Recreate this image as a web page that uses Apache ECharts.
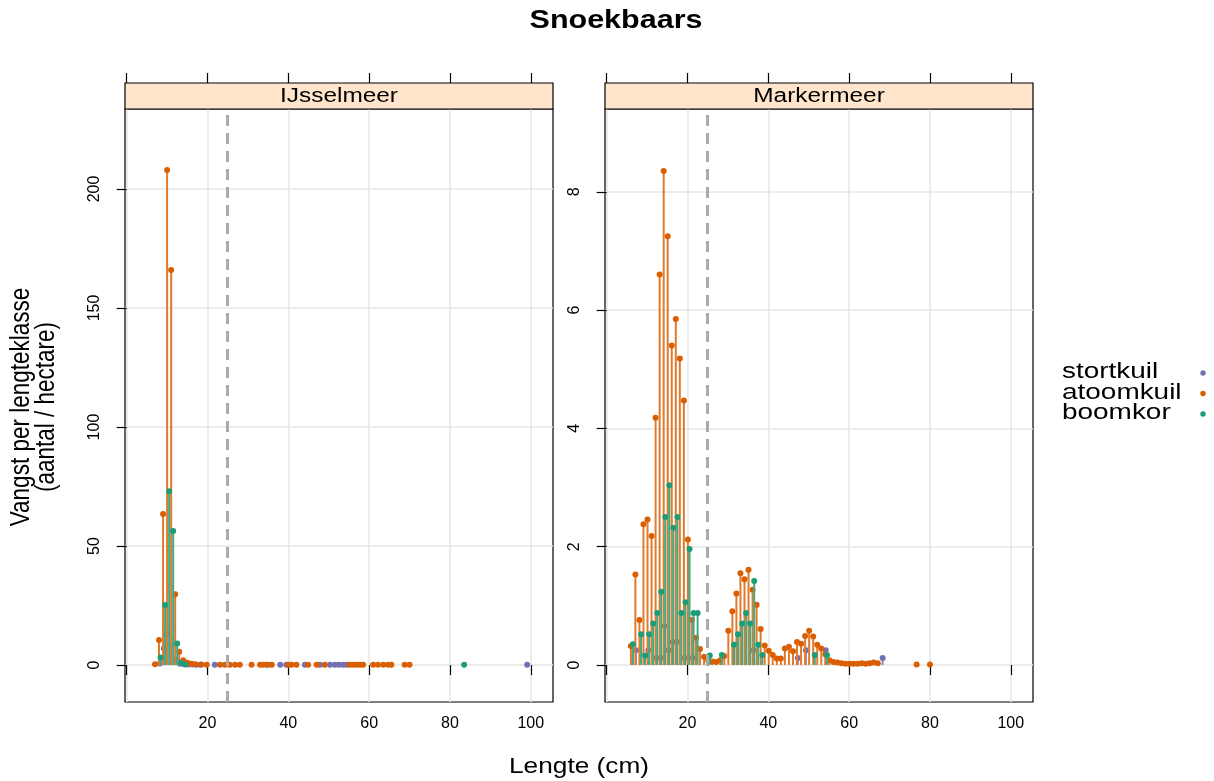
<!DOCTYPE html>
<html><head><meta charset="utf-8">
<script src="https://cdn.jsdelivr.net/npm/echarts@6/dist/echarts.min.js"></script>
<style>html,body{margin:0;padding:0;background:#fff}#c{width:1214px;height:781px}</style>
</head><body><div id="c"></div><script>
// ---------- data ----------
const panels = ['IJsselmeer', 'Markermeer'];
const seriesNames = ['stortkuil', 'atoomkuil', 'boomkor'];
const xTicks = [0, 20, 40, 60, 80, 100];
const xTickLabels = [20, 40, 60, 80, 100];
const yTicksIJ = [0, 50, 100, 150, 200];
const yTicksMM = [0, 2, 4, 6, 8];
const cutoffLength = 25;

// IJsselmeer
const ijStortX = [8.2, 9.2, 10.0, 11.0, 12.2, 13.2, 14.2, 15.2, 16.2, 17.2, 18.2, 21.8, 35.0, 38.0, 39.5, 44.1, 47.8, 50.3, 51.5, 52.5, 53.5, 54.4, 99.1];
const ijStortY = [0.7, 7.0, 13.3, 8.4, 2.5, 0.6, 0.4, 0.3, 0.3, 0.2, 0.2, 0.1, 0.1, 0.1, 0.1, 0.1, 0.1, 0.1, 0.1, 0.1, 0.1, 0.1, 0.1];
const ijAtoomX = [7, 8, 9, 10, 11, 12, 13, 14, 15, 16, 17, 18.5, 19.8, 23.1, 24.3, 25.5, 26.8, 28, 30.9, 33, 33.8, 34.6, 35.9, 40, 40.8, 42, 44.9, 47, 49, 55.2, 56, 56.9, 57.7, 58.5, 61, 62.2, 63.5, 64.7, 65.5, 68.8, 70];
const ijAtoomY = [0.4, 10.5, 63.5, 208, 166, 29.8, 5.6, 2.0, 1.0, 0.6, 0.4, 0.3, 0.2, 0.1, 0.1, 0.1, 0.1, 0.1, 0.1, 0.1, 0.1, 0.1, 0.1, 0.1, 0.1, 0.1, 0.1, 0.1, 0.1, 0.1, 0.1, 0.1, 0.1, 0.1, 0.1, 0.1, 0.1, 0.1, 0.1, 0.1, 0.1];
const ijBoomX = [8.4, 9.5, 10.5, 11.5, 12.5, 13.5, 14.5, 83.5];
const ijBoomY = [3.2, 25.2, 73.0, 56.3, 9.1, 1.0, 0.3, 0.1];

// Markermeer
const mmStortX = [7.25, 10.3, 12.2, 13.3, 14.3, 15.3, 16.3, 17.3, 19.3, 21.3, 36.3, 47.3, 49.3, 54.2, 68.3];
const mmStortY = [0.25, 0.25, 0.12, 0.12, 0.66, 0.25, 0.39, 0.39, 0.12, 0.12, 0.25, 0.12, 0.25, 0.25, 0.12];
const mmAtoomX = [6.0, 7.1, 8.1, 9.1, 10.1, 11.1, 12.1, 13.1, 14.1, 15.1, 16.1, 17.1, 18.1, 19.1, 20.1, 21.1, 22.1, 23.1, 24.1, 25.1, 26.1, 27.1, 28.1, 29.1, 30.1, 31.1, 32.1, 33.1, 34.1, 35.1, 36.1, 37.1, 38.1, 39.1, 40.1, 41.1, 42.1, 43.1, 44.1, 45.1, 46.1, 47.1, 48.1, 49.1, 50.1, 51.1, 52.1, 53.1, 54.1, 55.1, 56.1, 57.1, 58.1, 59.1, 60.1, 61.1, 62.1, 63.1, 64.1, 65.1, 66.1, 67.1, 76.7, 80.0];
const mmAtoomY = [0.32, 1.53, 0.76, 2.38, 2.46, 2.18, 4.18, 6.6, 8.35, 7.25, 5.4, 5.85, 5.18, 4.47, 2.12, 0.76, 0.46, 0.27, 0.14, 0.08, 0.06, 0.05, 0.08, 0.15, 0.58, 0.91, 1.21, 1.55, 1.45, 1.61, 1.27, 1.02, 0.61, 0.33, 0.24, 0.17, 0.11, 0.11, 0.28, 0.31, 0.23, 0.39, 0.36, 0.49, 0.58, 0.48, 0.34, 0.28, 0.18, 0.08, 0.05, 0.04, 0.03, 0.02, 0.02, 0.02, 0.02, 0.03, 0.02, 0.03, 0.04, 0.03, 0.01, 0.01];
const mmBoomX = [6.5, 8.5, 9.5, 10.5, 11.5, 12.5, 13.5, 14.5, 15.5, 16.5, 17.5, 18.5, 19.5, 20.5, 21.5, 22.5, 25.5, 28.5, 31.5, 32.5, 33.5, 34.5, 35.5, 36.5, 37.5, 38.5, 51.5, 54.5];
const mmBoomY = [0.35, 0.52, 0.16, 0.52, 0.70, 0.88, 1.24, 2.50, 3.04, 2.32, 2.50, 0.88, 1.06, 1.96, 0.88, 0.88, 0.16, 0.17, 0.34, 0.52, 0.70, 0.88, 0.70, 1.42, 0.34, 0.17, 0.17, 0.17];

// ---------- styling ----------
const pointColors = ['#7570B3', '#D95F02', '#1B9E77'];
const stemColors = ['#8E89C4', '#E27A2C', '#3DAA88'];
const FONT = 'Liberation Sans, Arial, Helvetica, sans-serif';
const SX = 1.22; // horizontal stretch of reference text

const gridBoxes = [
  {left: 125, top: 109, width: 428, height: 593},
  {left: 605, top: 109, width: 428, height: 593}
];
const yRanges = [[-15.5, 233.6], [-0.626, 9.40]];
const yTickSets = [yTicksIJ, yTicksMM];
const xRange = [-0.42, 105.5];

const allData = [
  [[ijStortX, ijStortY], [ijAtoomX, ijAtoomY], [ijBoomX, ijBoomY]],
  [[mmStortX, mmStortY], [mmAtoomX, mmAtoomY], [mmBoomX, mmBoomY]]
];

const grids = gridBoxes.map(b => Object.assign({show: true, borderColor: '#000', borderWidth: 1.2, backgroundColor: 'transparent'}, b));

const xAxes = [];
const yAxes = [];
gridBoxes.forEach((b, gi) => {
  xAxes.push({
    type: 'value', gridIndex: gi, position: 'bottom', min: xRange[0], max: xRange[1],
    axisLine: {show: false},
    axisTick: {show: true, inside: false, length: 10, customValues: xTicks, lineStyle: {color: '#000', width: 1.2}},
    axisLabel: {show: true, customValues: xTickLabels, fontSize: 16, color: '#000', fontFamily: FONT, margin: 14},
    splitLine: {show: true, lineStyle: {color: '#e6e6e6', width: 1.5}}
  });
  xAxes.push({
    type: 'value', gridIndex: gi, position: 'top', offset: 26, min: xRange[0], max: xRange[1],
    axisLine: {show: false},
    axisTick: {show: true, inside: false, length: 10, customValues: xTicks, lineStyle: {color: '#000', width: 1.2}},
    axisLabel: {show: false},
    splitLine: {show: false}
  });
  yAxes.push({
    type: 'value', gridIndex: gi, min: yRanges[gi][0], max: yRanges[gi][1],
    axisLine: {show: false},
    axisTick: {show: true, inside: false, length: 10, customValues: yTickSets[gi], lineStyle: {color: '#000', width: 1.2}},
    axisLabel: {show: true, customValues: yTickSets[gi], rotate: 90, fontSize: 16, color: '#000', fontFamily: FONT, margin: 22},
    splitLine: {show: true, lineStyle: {color: '#e6e6e6', width: 1.5}}
  });
});

const series = [];
allData.forEach((panel, gi) => {
  panel.forEach((xy, si) => {
    const s = {
      type: 'custom', name: seriesNames[si], xAxisIndex: gi * 2, yAxisIndex: gi,
      data: xy[0].map((x, i) => [x, xy[1][i]]),
      encode: {x: 0, y: 1}, clip: true,
      itemStyle: {color: pointColors[si]},
      renderItem: (params, api) => {
        const x = api.value(0), y = api.value(1);
        const p0 = api.coord([x, 0]), p1 = api.coord([x, y]);
        return {type: 'group', children: [
          {type: 'line', shape: {x1: p0[0], y1: p0[1], x2: p1[0], y2: p1[1]}, style: {stroke: stemColors[si], lineWidth: 2}},
          {type: 'circle', shape: {cx: p1[0], cy: p1[1], r: 3}, style: {fill: pointColors[si]}}
        ]};
      }
    };
    if (si === 0) {
      s.markLine = {silent: true, symbol: 'none', label: {show: false}, animation: false,
        lineStyle: {color: '#aaaaaa', width: 3, type: [11, 7]}, data: [{xAxis: cutoffLength}]};
    }
    series.push(s);
  });
});

const graphics = [];
gridBoxes.forEach((b, gi) => {
  graphics.push({type: 'rect', shape: {x: b.left, y: 83, width: b.width, height: 26},
    style: {fill: '#FFE5CC', stroke: '#000', lineWidth: 1.2}, z: 10});
  graphics.push({type: 'text', x: b.left + b.width / 2, y: 96.5, scaleX: SX, z: 11,
    style: {text: panels[gi], font: '20px ' + FONT, fill: '#000', textAlign: 'center', textVerticalAlign: 'middle'}});
});
graphics.push({type: 'text', x: 616, y: 21, scaleX: SX,
  style: {text: 'Snoekbaars', font: 'bold 25px ' + FONT, fill: '#000', textAlign: 'center', textVerticalAlign: 'middle'}});
graphics.push({type: 'text', x: 579, y: 767, scaleX: SX,
  style: {text: 'Lengte (cm)', font: '21.5px ' + FONT, fill: '#000', textAlign: 'center', textVerticalAlign: 'middle'}});
graphics.push({type: 'text', x: 21, y: 407, rotation: Math.PI / 2, scaleY: SX,
  style: {text: 'Vangst per lengteklasse', font: '22.5px ' + FONT, fill: '#000', textAlign: 'center', textVerticalAlign: 'middle'}});
graphics.push({type: 'text', x: 46, y: 407, rotation: Math.PI / 2, scaleY: SX,
  style: {text: '(aantal / hectare)', font: '22.5px ' + FONT, fill: '#000', textAlign: 'center', textVerticalAlign: 'middle'}});
// legend (key) entries: label + point
const legendRowsY = [372, 392.5, 413];
seriesNames.forEach((n, i) => {
  graphics.push({type: 'text', x: 1062, y: legendRowsY[i], scaleX: 1.27,
    style: {text: n, font: '22px ' + FONT, fill: '#000', textAlign: 'left', textVerticalAlign: 'middle'}});
  graphics.push({type: 'circle', shape: {cx: 1203, cy: legendRowsY[i] + 1, r: 2.7}, style: {fill: pointColors[i]}});
});

const chart = echarts.init(document.getElementById('c'), null, {renderer: 'canvas'});
chart.setOption({
  animation: false,
  backgroundColor: '#fff',
  grid: grids,
  xAxis: xAxes,
  yAxis: yAxes,
  graphic: graphics,
  series: series
});
</script></body></html>
